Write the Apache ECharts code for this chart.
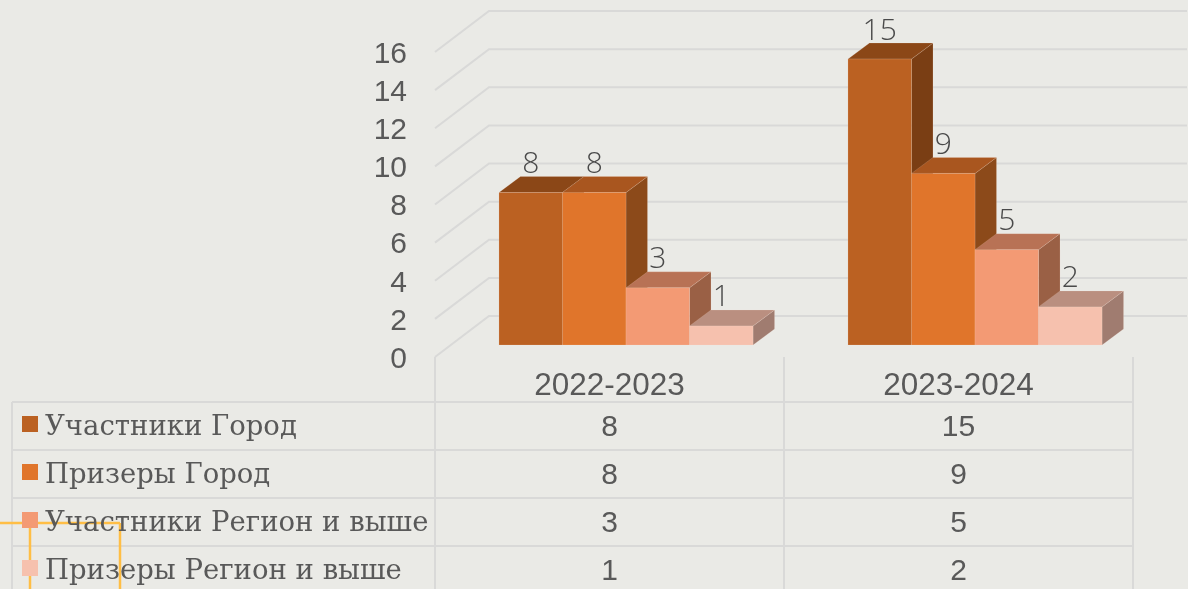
<!DOCTYPE html>
<html><head><meta charset="utf-8">
<style>html,body{margin:0;padding:0;background:#eaeae6}#c{width:1188px;height:589px}</style>
<script src="https://cdn.jsdelivr.net/npm/echarts@6/dist/echarts.min.js"></script>
</head><body><div id="c"></div>
<script>
const categories = ['2022-2023', '2023-2024'];
const seriesNames = ['Участники Город', 'Призеры Город', 'Участники Регион и выше', 'Призеры Регион и выше'];
const uchGorod = [8, 15];
const prizGorod = [8, 9];
const uchRegion = [3, 5];
const prizRegion = [1, 2];
const yTicks = [0, 2, 4, 6, 8, 10, 12, 14, 16];
const seriesValues = [uchGorod, prizGorod, uchRegion, prizRegion];
const frontColors = ['#bb6122', '#e0752b', '#f39a74', '#f6c1ae'];
const topColors = ['#8b4717', '#a9561f', '#b87255', '#ba8f80'];
const sideColors = ['#7a3e14', '#8c4a1a', '#9a6045', '#a07c70'];

const GRID = {left: 435, top: 52, width: 698, height: 305};
const BG = '#eaeae6', LINE = '#d9d9d8', TXT = '#595959', YEL = '#ffbe45';
const SHIFT_X = 16.5, SHIFT_Y = -12, DX = 21.5, DY = -16;
const WALL_X = 54, WALL_Y = -41;
const ROWS = [428, 476, 524, 572];

function barRender(si) {
  return function (params, api) {
    const c = api.coord([api.value(0), api.value(1)]);
    const base = api.coord([api.value(0), 0]);
    const w = api.size([1, 0])[0] * 0.182;
    const x = c[0] + SHIFT_X - 2 * w + si * w;
    const yt = c[1] + SHIFT_Y, yb = base[1] + SHIFT_Y;
    const edge = {stroke: 'rgba(255,235,220,0.15)', lineWidth: 1};
    return {type: 'group', children: [
      {type: 'polygon', shape: {points: [[x + w, yt], [x + w + DX, yt + DY], [x + w + DX, yb + DY], [x + w, yb]]},
       style: {fill: sideColors[si], ...edge}},
      {type: 'polygon', shape: {points: [[x, yt], [x + DX, yt + DY], [x + w + DX, yt + DY], [x + w, yt]]},
       style: {fill: topColors[si], ...edge}},
      {type: 'rect', shape: {x: x, y: yt, width: w, height: yb - yt},
       style: {fill: frontColors[si], ...edge}},
      {type: 'text', style: {x: x + w / 2, y: yt + DY + 3, text: String(api.value(1)), align: 'center', verticalAlign: 'bottom',
        font: '300 30px "Open Sans"', fill: '#4a4a4a'}}
    ]};
  };
}
function wallRender(params, api) {
  const a = api.coord([0, api.value(0)]);
  const leftEdge = GRID.left;
  const rightEnd = GRID.left + GRID.width + WALL_X;
  return {type: 'polyline', shape: {points: [[leftEdge, a[1]], [leftEdge + WALL_X, a[1] + WALL_Y], [rightEnd, a[1] + WALL_Y]]},
    style: {stroke: LINE, lineWidth: 2, fill: null}};
}
function tableRender(params, api) {
  const c = api.coord([api.value(0), 0]);
  return {type: 'text', style: {x: c[0], y: ROWS[api.value(2)], text: String(api.value(1)), align: 'center', verticalAlign: 'middle',
    font: '30px "Liberation Sans"', fill: TXT}};
}
const tableData = [];
seriesValues.forEach((vals, r) => vals.forEach((v, c) => tableData.push([c, v, r])));

const hLines = [402, 450, 498, 546].map(y => ({type: 'line', z: 1, shape: {x1: 12, y1: y, x2: 1134, y2: y}, style: {stroke: LINE, lineWidth: 2}}));
const vLines = [[12, 402], [435, 357], [784, 357], [1133, 357]].map(p => ({type: 'line', z: 1, shape: {x1: p[0], y1: p[1], x2: p[0], y2: 589}, style: {stroke: LINE, lineWidth: 2}}));
const yellow = [[0, 523, 120, 523], [30, 523, 30, 589], [120, 523, 120, 589]].map(p => ({type: 'line', z: 2, shape: {x1: p[0], y1: p[1], x2: p[2], y2: p[3]}, style: {stroke: YEL, lineWidth: 2.5}}));

const chart = echarts.init(document.getElementById('c'), null, {renderer: 'canvas'});
chart.setOption({
  animation: false,
  backgroundColor: BG,
  grid: {left: GRID.left, top: GRID.top, width: GRID.width, height: GRID.height, containLabel: false},
  legend: {
    orient: 'vertical', left: 17, top: 401, height: 400, itemWidth: 16, itemHeight: 16, itemGap: 12, icon: 'rect',
    selectedMode: false, data: seriesNames, formatter: '{a|{name}}',
    textStyle: {rich: {a: {fontFamily: '"DejaVu Serif"', fontSize: 27.5, color: TXT, lineHeight: 30, padding: [8, 0, 0, 2]}}}
  },
  xAxis: {type: 'category', data: categories, axisLine: {show: false}, axisTick: {show: false}, splitLine: {show: false},
    axisLabel: {margin: 13, fontFamily: '"Liberation Sans"', fontSize: 31.5, color: TXT}},
  yAxis: {type: 'value', min: 0, max: 16, interval: 2, axisLine: {show: false}, axisTick: {show: false}, splitLine: {show: false},
    axisLabel: {margin: 28, formatter: '{a|{value}}',
      rich: {a: {fontFamily: '"Liberation Sans"', fontSize: 30, color: TXT, padding: [5, 0, 0, 0]}}}},
  graphic: {elements: [...hLines, ...vLines, ...yellow]},
  series: [
    {type: 'custom', name: 'wall', coordinateSystem: 'cartesian2d', clip: false, silent: true, z: 1,
     data: yTicks.map(v => [v]), encode: {y: 0}, renderItem: wallRender},
    ...seriesNames.map((n, si) => ({
      type: 'custom', name: n, coordinateSystem: 'cartesian2d', clip: false, z: 2 + si,
      itemStyle: {color: frontColors[si]},
      data: seriesValues[si].map((v, c) => [c, v]), encode: {x: 0, y: 1}, renderItem: barRender(si)
    })),
    {type: 'custom', name: 'table', coordinateSystem: 'cartesian2d', clip: false, silent: true, z: 8,
     data: tableData, encode: {x: 0, y: 1}, renderItem: tableRender}
  ]
});
</script></body></html>
